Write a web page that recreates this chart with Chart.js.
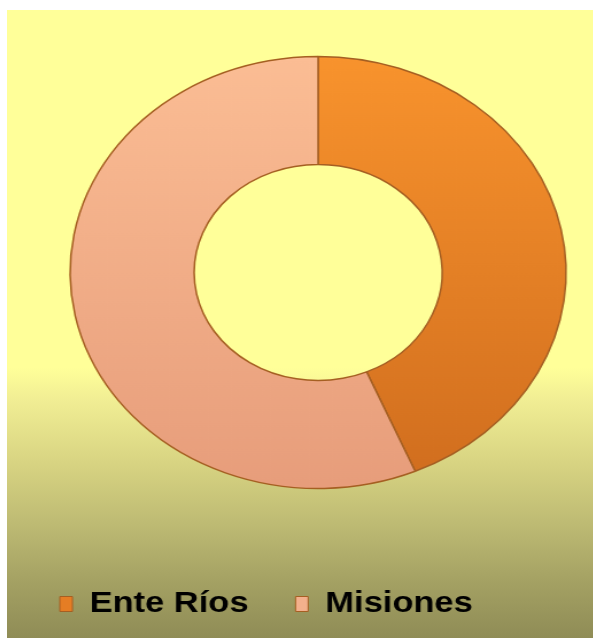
<!DOCTYPE html>
<html><head><meta charset="utf-8">
<script src="https://cdn.jsdelivr.net/npm/chart.js@4/dist/chart.umd.min.js"></script>
<style>
html,body{margin:0;padding:0;background:#fff;overflow:hidden;width:593px;height:638px;}
#bg{position:absolute;left:7px;top:10px;width:586px;height:628px;background:linear-gradient(to bottom,#FFFF99 0%,#FFFF99 57%,#F1EE94 62%,#D8D482 72%,#BDBA73 82%,#A4A163 91%,#8F8C56 100%);}
#wrap{position:absolute;left:7px;top:-3px;width:542px;height:632px;transform-origin:0 0;transform:scaleX(1.148);}
canvas{display:block;}
</style></head><body>
<div id="bg"></div>
<div id="wrap"><canvas id="c" width="542" height="632" style="width:542px;height:632px"></canvas></div>
<script>
// ---- data ----
const categories = ['Ente Ríos', 'Misiones'];
const values = [43.6, 56.4];
// ---- style ----
const colorsTop = ['#F8932D', '#FBBD94'];
const colorsBottom = ['#D06D1E', '#E79D7B'];
const legendColors = ['#E57D24', '#F3B08C'];
const borderColor = '#A55F22';
const outerRadius = 216;

function sliceFill(ctx) {
  const chart = ctx.chart;
  const area = chart.chartArea;
  const i = ctx.dataIndex;
  if (!area) return colorsTop[i];
  const cy = (area.top + area.bottom) / 2;
  const g = chart.ctx.createLinearGradient(0, cy - outerRadius, 0, cy + outerRadius);
  g.addColorStop(0, colorsTop[i]);
  g.addColorStop(1, colorsBottom[i]);
  return g;
}

new Chart(document.getElementById('c'), {
  type: 'doughnut',
  data: {
    labels: categories,
    datasets: [{
      data: values,
      backgroundColor: sliceFill,
      borderColor: borderColor,
      borderWidth: 1.5,
      hoverOffset: 0
    }]
  },
  options: {
    responsive: false,
    animation: false,
    radius: outerRadius,
    cutout: '50%',
    layout: { padding: { left: 5, right: 5, top: 0, bottom: 0 } },
    plugins: {
      tooltip: { enabled: false },
      legend: {
        position: 'bottom',
        align: 'start',
        labels: {
          color: '#000',
          font: { family: '"Liberation Sans", Arial, sans-serif', size: 30, weight: 'bold' },
          boxWidth: 11,
          boxHeight: 15,
          padding: 41,
          generateLabels: function(chart) {
            const items = Chart.overrides.doughnut.plugins.legend.labels.generateLabels(chart);
            items.forEach((it, k) => { it.fillStyle = legendColors[k]; it.strokeStyle = borderColor; it.lineWidth = 1; });
            return items;
          }
        }
      }
    }
  }
});
</script>
</body></html>
